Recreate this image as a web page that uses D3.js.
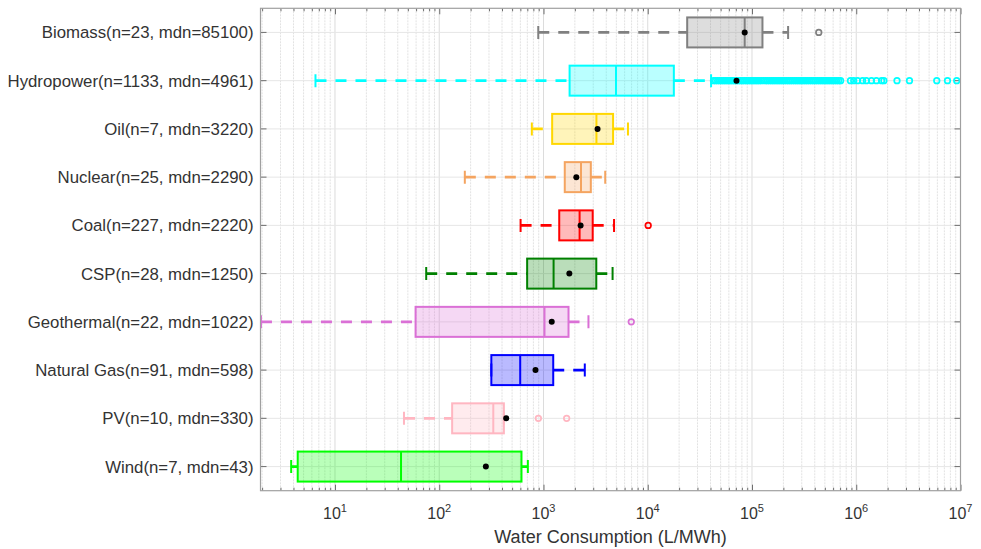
<!DOCTYPE html>
<html><head><meta charset="utf-8">
<script src="https://cdn.jsdelivr.net/npm/d3@7"></script>
<style>body{margin:0;background:#fff}svg{display:block}text{font-family:"Liberation Sans",Arial,Helvetica,sans-serif}</style>
</head><body>
<svg id="chart" width="981" height="549"></svg>
<script>
const categories = ["Biomass(n=23, mdn=85100)","Hydropower(n=1133, mdn=4961)","Oil(n=7, mdn=3220)","Nuclear(n=25, mdn=2290)","Coal(n=227, mdn=2220)","CSP(n=28, mdn=1250)","Geothermal(n=22, mdn=1022)","Natural Gas(n=91, mdn=598)","PV(n=10, mdn=330)","Wind(n=7, mdn=43)"];
const colors = ["#808080","#00ffff","#ffd700","#f4a460","#ff0000","#008000","#da70d6","#0000ff","#ffb6c1","#00ff00"];
const whiskerLow  = [891, 6.5, 773, 176, 603, 75, 1.95, 316, 45.9, 3.8];
const q1          = [23900, 1780, 1211, 1600, 1416, 697, 59.3, 316, 133, 4.39];
const medians     = [85100, 4961, 3220, 2290, 2220, 1250, 1022, 598, 330, 43];
const q3          = [126000, 17800, 4650, 2845, 2965, 3210, 1738, 1240, 417, 615];
const whiskerHigh = [222000, 40500, 6460, 3910, 4750, 4600, 2700, 2490, 417, 708];
const means       = [85100, 71000, 3300, 2065, 2270, 1770, 1200, 838, 439, 280];
const outliers = [
  [437000],
  [42700,44700,46800,49000,51300,53700,56200,58900,61600,64500,67600,70800,74100,77600,81200,85000,89000,93200,97600,102000,107000,112000,117000,123000,129000,135000,141000,148000,155000,162000,170000,178000,186000,195000,204000,214000,224000,234000,245000,257000,269000,282000,295000,309000,324000,339000,355000,372000,389000,407000,427000,447000,468000,490000,513000,537000,562000,589000,617000,646000,676000,708000,
   880000,946000,1030000,1150000,1250000,1400000,1560000,1750000,1840000,2460000,3240000,5920000,7500000,9200000],
  [], [], [10100], [], [6950], [], [893,1668], []
];
const majorTicks = [10,100,1000,10000,100000,1000000,10000000];
const tickExponents = ["1","2","3","4","5","6","7"];
const xTitle = "Water Consumption (L/MWh)";

const svg = d3.select("#chart");
const L = 260.5, R = 960.5, T = 8.3, B = 490.7;
const x = d3.scaleLog().domain([1.93, 1e7]).range([L, R]);
const y = d3.scaleBand().domain(categories).range([T, B]);
const yc = c => y(c) + y.bandwidth()/2;

const minorTicks = [];
for (let e = 0; e <= 6; e++) for (let m = 2; m <= 9; m++) { const v = m*Math.pow(10,e); if (v >= 1.93 && v <= 1e7) minorTicks.push(v); }

const grid = svg.append("g");
grid.selectAll("line.minor").data(minorTicks).join("line")
  .attr("x1", d=>x(d)).attr("x2", d=>x(d)).attr("y1", T).attr("y2", B)
  .attr("stroke", "#e2e2e2").attr("stroke-width", 1).attr("stroke-dasharray","2,1");
grid.selectAll("line.major").data(majorTicks).join("line")
  .attr("x1", d=>x(d)).attr("x2", d=>x(d)).attr("y1", T).attr("y2", B)
  .attr("stroke", "#dcdcdc").attr("stroke-width", 1);
grid.selectAll("line.hy").data(categories).join("line")
  .attr("x1", L).attr("x2", R).attr("y1", d=>yc(d)).attr("y2", d=>yc(d))
  .attr("stroke", "#e6e6e6").attr("stroke-width", 1);

const axG = svg.append("g").attr("color", "#6e6e6e");
axG.append("g").attr("transform", `translate(0,${B})`).call(d3.axisBottom(x).tickValues(majorTicks).tickSize(-6).tickFormat("")).call(g=>g.select(".domain").remove());
axG.append("g").attr("transform", `translate(0,${B})`).call(d3.axisBottom(x).tickValues(minorTicks).tickSize(-3).tickFormat("")).call(g=>g.select(".domain").remove());
axG.append("g").attr("transform", `translate(0,${T})`).call(d3.axisTop(x).tickValues(majorTicks).tickSize(-6).tickFormat("")).call(g=>g.select(".domain").remove());
axG.append("g").attr("transform", `translate(0,${T})`).call(d3.axisTop(x).tickValues(minorTicks).tickSize(-3).tickFormat("")).call(g=>g.select(".domain").remove());
axG.append("g").attr("transform", `translate(${L},0)`).call(d3.axisLeft(y).tickSize(-6).tickFormat("")).call(g=>g.select(".domain").remove());
axG.append("g").attr("transform", `translate(${R},0)`).call(d3.axisRight(y).tickSize(-6).tickFormat("")).call(g=>g.select(".domain").remove());

svg.append("defs").append("clipPath").attr("id","clip").append("rect").attr("x",L).attr("y",T).attr("width",R-L).attr("height",B-T);
const plot = svg.append("g").attr("clip-path","url(#clip)");

categories.forEach((c, i) => {
  const cy = yc(c), col = colors[i], h = 15, capH = 6.5;
  const g = plot.append("g");
  g.append("line").attr("x1", x(whiskerLow[i])).attr("x2", x(q1[i])).attr("y1", cy).attr("y2", cy)
    .attr("stroke", col).attr("stroke-width", 2.6).attr("stroke-dasharray", "11,9");
  g.append("line").attr("x1", x(q3[i])).attr("x2", x(whiskerHigh[i])).attr("y1", cy).attr("y2", cy)
    .attr("stroke", col).attr("stroke-width", 2.6).attr("stroke-dasharray", "11,9");
  [whiskerLow[i], whiskerHigh[i]].forEach(v => {
    g.append("line").attr("x1", x(v)).attr("x2", x(v)).attr("y1", cy-capH).attr("y2", cy+capH)
      .attr("stroke", col).attr("stroke-width", 2);
  });
  g.append("rect").attr("x", x(q1[i])).attr("y", cy-h).attr("width", x(q3[i])-x(q1[i])).attr("height", 2*h)
    .attr("fill", col).attr("fill-opacity", 0.27).attr("stroke", col).attr("stroke-width", 2);
  g.append("line").attr("x1", x(medians[i])).attr("x2", x(medians[i])).attr("y1", cy-h).attr("y2", cy+h)
    .attr("stroke", col).attr("stroke-width", 2);
  g.selectAll("circle.o").data(outliers[i]).join("circle")
    .attr("cx", d=>x(d)).attr("cy", cy).attr("r", 2.8)
    .attr("fill", "none").attr("stroke", col).attr("stroke-width", 1.7);
  g.append("circle").attr("cx", x(means[i])).attr("cy", cy).attr("r", 3).attr("fill", "#000");
});

svg.append("rect").attr("x", L).attr("y", T).attr("width", R-L).attr("height", B-T)
  .attr("fill", "none").attr("stroke", "#a0a0a0").attr("stroke-width", 1.2);

svg.append("g").selectAll("text").data(categories).join("text")
  .attr("x", L-7).attr("y", d=>yc(d)).attr("dy", "0.36em").attr("text-anchor", "end")
  .attr("font-size", 16.8).attr("fill", "#333").text(d=>d);

const tl = svg.append("g").selectAll("text").data(majorTicks).join("text")
  .attr("x", d=>x(d)).attr("y", 519).attr("text-anchor", "middle").attr("font-size", 16).attr("fill", "#333");
tl.append("tspan").text("10");
tl.append("tspan").attr("dy", -7).attr("font-size", 11).text((d,i)=>tickExponents[i]);

svg.append("text").attr("x", (L+R)/2).attr("y", 543).attr("text-anchor", "middle")
  .attr("font-size", 18).attr("fill", "#333").text(xTitle);
</script>
</body></html>
